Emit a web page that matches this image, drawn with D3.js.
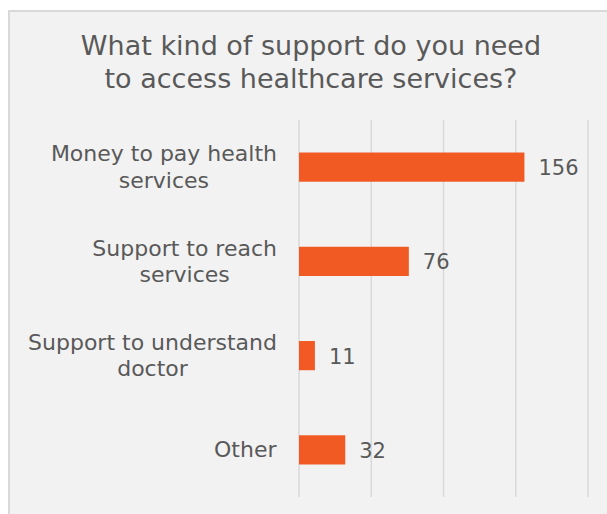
<!DOCTYPE html>
<html>
<head>
<meta charset="utf-8">
<script src="https://cdn.jsdelivr.net/npm/d3@7"></script>
<style>
  html, body { margin: 0; padding: 0; background: #ffffff; }
  svg { display: block; }
  text { font-family: "DejaVu Sans", Verdana, sans-serif; fill: #595959; }
</style>
</head>
<body>
<svg id="chart" width="607" height="514"></svg>
<script>
// Survey responses: kind of support needed to access healthcare
const categories = [
  ["Money to pay health", "services"],
  ["Support to reach", "services"],
  ["Support to understand", "doctor"],
  ["Other"]
];
const values = [156, 76, 11, 32];
const xTicks = [0, 50, 100, 150, 200];
const titleLines = ["What kind of support do you need", "to access healthcare services?"];

const svg = d3.select("#chart");
const W = 607, H = 514;

// chart panel
svg.append("rect")
  .attr("x", 9).attr("y", 11)
  .attr("width", W + 20).attr("height", H + 20)
  .attr("fill", "#f2f2f2")
  .attr("stroke", "#d9d9d9")
  .attr("stroke-width", 2);

// title
const title = svg.append("text")
  .attr("text-anchor", "middle")
  .style("font-size", "27px");
titleLines.forEach((t, i) => {
  title.append("tspan").attr("x", 311).attr("y", 55 + i * 33).text(t);
});

const plot = { left: 299, right: 588, top: 120, bottom: 497 };

const x = d3.scaleLinear().domain([0, 200]).range([plot.left, plot.right]);
const y = d3.scaleBand()
  .domain(d3.range(categories.length))
  .range([plot.top, plot.bottom])
  .paddingInner(0.69).paddingOuter(0.345);

// vertical gridlines
svg.append("g")
  .selectAll("line")
  .data(xTicks)
  .join("line")
  .attr("x1", d => x(d)).attr("x2", d => x(d))
  .attr("y1", plot.top).attr("y2", plot.bottom)
  .attr("stroke", "#d9d9d9")
  .attr("stroke-width", 1.5);

// bars
svg.append("g")
  .selectAll("rect")
  .data(values)
  .join("rect")
  .attr("x", x(0))
  .attr("y", (d, i) => y(i))
  .attr("width", d => x(d) - x(0))
  .attr("height", y.bandwidth())
  .attr("fill", "#f15a22");

// value labels
svg.append("g")
  .selectAll("text")
  .data(values)
  .join("text")
  .attr("x", d => x(d) + 14)
  .attr("y", (d, i) => y(i) + y.bandwidth() / 2 + 8)
  .style("font-size", "21px")
  .text(d => d);

// category labels (multi-line, centred within a right-aligned block)
const labelRight = 277;
const catG = svg.append("g");
categories.forEach((lines, i) => {
  const cy = y(i) + y.bandwidth() / 2;
  const t = catG.append("text")
    .attr("text-anchor", "middle")
    .style("font-size", "22px");
  const lh = 26.5;
  const startY = cy + 7.5 - (lines.length - 1) * lh / 2;
  lines.forEach((ln, j) => {
    t.append("tspan").attr("x", 0).attr("y", startY + j * lh).text(ln);
  });
  const bb = t.node().getBBox();
  const cx = labelRight - bb.width / 2;
  t.selectAll("tspan").attr("x", cx);
});
</script>
</body>
</html>
